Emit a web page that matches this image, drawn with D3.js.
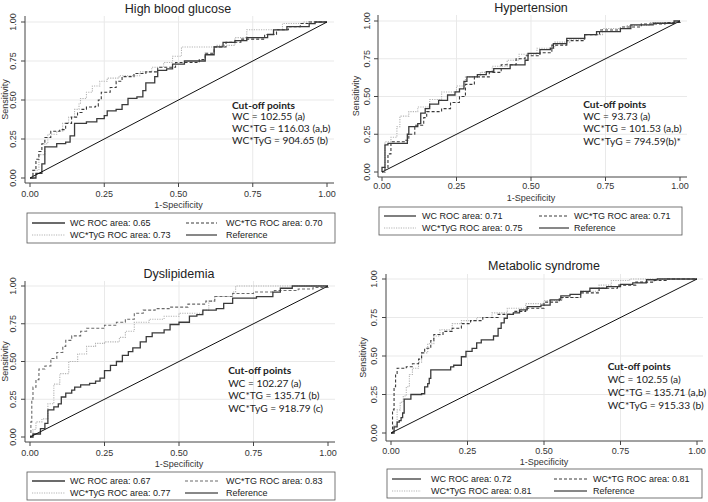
<!DOCTYPE html>
<html><head><meta charset="utf-8">
<script src="https://cdn.jsdelivr.net/npm/d3@7"></script>
<style>body{margin:0;background:#fff} svg{display:block}</style>
</head><body><svg id="c" width="708" height="502"></svg>
<script>
// ---------- DATA ----------
const titles = ["High blood glucose", "Hypertension", "Dyslipidemia", "Metabolic syndrome"];
const ticks = [0, 0.25, 0.5, 0.75, 1];
const tickLabels = ["0.00", "0.25", "0.50", "0.75", "1.00"];
const xTitle = "1-Specificity", yTitle = "Sensitivity";
const seriesNames = ["WC", "WC*TG", "WC*TyG"];
const rocAreas = [[0.65, 0.70, 0.73], [0.71, 0.71, 0.75], [0.67, 0.83, 0.77], [0.72, 0.81, 0.81]];
const cutoffHeader = "Cut-off points";
const cutoffs = [
  ["WC = 102.55 (a)", "WC*TG = 116.03 (a,b)", "WC*TyG = 904.65 (b)"],
  ["WC = 93.73 (a)", "WC*TG = 101.53 (a,b)", "WC*TyG = 794.59(b)*"],
  ["WC = 102.27 (a)", "WC*TG = 135.71 (b)", "WC*TyG = 918.79 (c)"],
  ["WC = 102.55 (a)", "WC*TG = 135.71 (a,b)", "WC*TyG = 915.33 (b)"]
];
const refLine = [[0, 0], [1, 1]];

const hbgWC = [[0,0],[0.02,0.03],[0.04,0.09],[0.05,0.20],[0.09,0.22],[0.12,0.23],[0.135,0.27],[0.15,0.35],[0.19,0.36],[0.225,0.38],[0.25,0.40],[0.26,0.43],[0.29,0.44],[0.31,0.47],[0.33,0.51],[0.36,0.52],[0.38,0.56],[0.39,0.61],[0.42,0.65],[0.43,0.69],[0.46,0.70],[0.48,0.73],[0.52,0.75],[0.59,0.79],[0.62,0.84],[0.65,0.87],[0.69,0.88],[0.73,0.90],[0.80,0.92],[0.82,0.95],[0.865,0.97],[0.94,0.99],[0.96,1],[1,1]];
const hbgTG = [[0,0],[0.01,0.05],[0.02,0.12],[0.03,0.17],[0.04,0.22],[0.05,0.26],[0.07,0.30],[0.10,0.31],[0.12,0.35],[0.14,0.39],[0.16,0.42],[0.175,0.44],[0.19,0.455],[0.22,0.46],[0.23,0.50],[0.24,0.55],[0.27,0.58],[0.29,0.62],[0.31,0.65],[0.35,0.67],[0.39,0.68],[0.43,0.71],[0.49,0.74],[0.57,0.76],[0.59,0.80],[0.62,0.84],[0.66,0.87],[0.71,0.89],[0.79,0.92],[0.83,0.95],[0.87,0.97],[0.91,0.99],[0.94,1],[1,1]];
const hbgTyG = [[0,0],[0.01,0.05],[0.03,0.15],[0.05,0.22],[0.06,0.28],[0.09,0.30],[0.11,0.35],[0.13,0.39],[0.15,0.44],[0.165,0.48],[0.17,0.51],[0.19,0.55],[0.21,0.59],[0.235,0.62],[0.26,0.64],[0.30,0.655],[0.37,0.68],[0.41,0.71],[0.45,0.74],[0.48,0.78],[0.51,0.84],[0.63,0.85],[0.69,0.90],[0.73,0.95],[0.85,0.99],[0.92,1],[1,1]];

const htnWC = [[0,0],[0,0.03],[0.01,0.03],[0.01,0.18],[0.02,0.19],[0.085,0.25],[0.09,0.30],[0.12,0.32],[0.13,0.39],[0.145,0.42],[0.16,0.45],[0.19,0.475],[0.22,0.51],[0.245,0.53],[0.26,0.55],[0.275,0.60],[0.285,0.63],[0.32,0.645],[0.35,0.665],[0.375,0.685],[0.43,0.71],[0.48,0.74],[0.49,0.785],[0.53,0.81],[0.565,0.82],[0.575,0.85],[0.62,0.885],[0.68,0.91],[0.72,0.93],[0.80,0.95],[0.835,0.975],[0.91,0.985],[0.98,1],[1,1]];
const htnTG = [[0,0],[0.01,0.03],[0.02,0.12],[0.03,0.20],[0.08,0.21],[0.09,0.25],[0.11,0.31],[0.14,0.36],[0.15,0.40],[0.20,0.42],[0.23,0.46],[0.26,0.50],[0.28,0.58],[0.31,0.63],[0.36,0.66],[0.40,0.71],[0.45,0.75],[0.48,0.77],[0.53,0.79],[0.57,0.84],[0.62,0.87],[0.68,0.91],[0.73,0.94],[0.80,0.96],[0.87,0.98],[0.95,0.99],[1,1]];
const htnTyG = [[0,0],[0.01,0.20],[0.03,0.23],[0.05,0.30],[0.06,0.37],[0.09,0.40],[0.12,0.43],[0.16,0.48],[0.20,0.53],[0.25,0.57],[0.28,0.63],[0.33,0.66],[0.37,0.70],[0.42,0.74],[0.46,0.78],[0.52,0.82],[0.58,0.86],[0.63,0.88],[0.68,0.91],[0.74,0.95],[0.82,0.97],[0.90,0.99],[1,1]];

const dysWC = [[0,0],[0.01,0.02],[0.035,0.055],[0.05,0.09],[0.06,0.18],[0.08,0.20],[0.095,0.22],[0.105,0.265],[0.12,0.29],[0.14,0.31],[0.15,0.33],[0.17,0.345],[0.20,0.355],[0.22,0.37],[0.235,0.39],[0.25,0.44],[0.27,0.475],[0.29,0.50],[0.31,0.54],[0.33,0.565],[0.345,0.59],[0.37,0.63],[0.39,0.665],[0.41,0.69],[0.45,0.71],[0.47,0.745],[0.50,0.76],[0.535,0.80],[0.56,0.81],[0.58,0.84],[0.625,0.85],[0.65,0.885],[0.68,0.92],[0.76,0.93],[0.815,0.96],[0.84,0.985],[0.88,1],[1,1]];
const dysTG = [[0,0],[0.003,0.10],[0.006,0.25],[0.01,0.33],[0.02,0.38],[0.03,0.45],[0.05,0.47],[0.07,0.52],[0.09,0.56],[0.11,0.60],[0.12,0.64],[0.14,0.67],[0.17,0.70],[0.19,0.72],[0.25,0.74],[0.29,0.76],[0.32,0.78],[0.35,0.82],[0.38,0.84],[0.42,0.85],[0.47,0.86],[0.53,0.88],[0.59,0.90],[0.62,0.93],[0.68,0.95],[0.75,0.96],[0.82,0.97],[0.90,0.98],[0.95,0.99],[1,1]];
const dysTyG = [[0,0],[0.01,0.05],[0.02,0.10],[0.04,0.12],[0.06,0.22],[0.08,0.35],[0.10,0.42],[0.13,0.50],[0.16,0.55],[0.19,0.60],[0.22,0.62],[0.25,0.63],[0.30,0.66],[0.32,0.70],[0.35,0.76],[0.40,0.78],[0.45,0.80],[0.50,0.82],[0.58,0.84],[0.60,0.90],[0.62,0.93],[0.68,0.96],[0.69,1],[1,1]];

const msWC = [[0,0],[0.01,0.04],[0.02,0.07],[0.027,0.08],[0.033,0.10],[0.038,0.13],[0.043,0.22],[0.065,0.25],[0.10,0.255],[0.11,0.30],[0.12,0.32],[0.125,0.355],[0.13,0.41],[0.185,0.41],[0.195,0.43],[0.205,0.44],[0.23,0.495],[0.245,0.53],[0.265,0.55],[0.28,0.585],[0.295,0.605],[0.335,0.63],[0.35,0.68],[0.36,0.715],[0.37,0.745],[0.38,0.77],[0.40,0.78],[0.42,0.80],[0.445,0.82],[0.49,0.83],[0.52,0.865],[0.555,0.89],[0.585,0.90],[0.62,0.92],[0.65,0.94],[0.705,0.95],[0.75,0.965],[0.79,0.975],[0.835,0.995],[0.87,1],[1,1]];
const msTG = [[0,0],[0.005,0.15],[0.01,0.30],[0.015,0.38],[0.02,0.42],[0.05,0.43],[0.07,0.45],[0.09,0.48],[0.10,0.52],[0.11,0.55],[0.13,0.60],[0.14,0.64],[0.17,0.66],[0.20,0.68],[0.23,0.71],[0.26,0.73],[0.30,0.75],[0.35,0.77],[0.40,0.79],[0.44,0.81],[0.50,0.85],[0.55,0.88],[0.62,0.91],[0.68,0.94],[0.74,0.96],[0.80,0.98],[0.86,0.99],[0.90,1],[1,1]];
const msTyG = [[0,0],[0.01,0.05],[0.02,0.15],[0.03,0.20],[0.04,0.24],[0.05,0.30],[0.06,0.38],[0.07,0.42],[0.09,0.46],[0.10,0.52],[0.12,0.58],[0.14,0.63],[0.16,0.67],[0.20,0.71],[0.23,0.73],[0.28,0.75],[0.33,0.78],[0.38,0.81],[0.44,0.84],[0.50,0.86],[0.56,0.88],[0.62,0.92],[0.68,0.96],[0.72,0.99],[0.78,1],[1,1]];

const panelSeries = [[hbgWC, hbgTG, hbgTyG], [htnWC, htnTG, htnTyG], [dysWC, dysTG, dysTyG], [msWC, msTG, msTyG]];

// ---------- LAYOUT (positions only) ----------
const layout = [
  {x0:30,x1:327,y0:178,y1:22,axX:25,axY:183,top:16,right:334,title:[178,13],leg:[27,213,335,243],rows:[223,235],c1:[32,65,70],c2:[186,217,226],xl:197,xt:208,yl:16,yt:8,cut:[0.68,0.47,11.8],tg:"#3a3a3a"},
  {x0:382,x1:680,y0:172,y1:21,axX:378,axY:177,top:15,right:687,title:[531,12],leg:[379,207,682,235],rows:[216,228],c1:[384,416,422],c2:[539,569,574],xl:189,xt:201,yl:370,yt:359,cut:[0.675,0.45,12.2],tg:"#3a3a3a"},
  {x0:30,x1:328,y0:437,y1:286,axX:25,axY:442,top:281,right:335,title:[179,278],leg:[27,472,335,500],rows:[481,493],c1:[32,65,70],c2:[185,218,226],xl:456,xt:467,yl:16,yt:8,cut:[0.665,0.445,12.8],tg:"#6a6a6a"},
  {x0:391,x1:697,y0:433,y1:279,axX:386,axY:441,top:274,right:703,title:[544,270],leg:[387,469,702,498],rows:[479,491],c1:[392,421,431],c2:[554,587,593],xl:454,xt:465,yl:377,yt:366,cut:[0.708,0.435,13],tg:"#3a3a3a"}
];

const styles = [
  {stroke:"#3a3a3a", width:1.3, dash:null},
  {stroke:"#3a3a3a", width:1.1, dash:"3,2"},
  {stroke:"#b4b4b4", width:1.1, dash:"1.2,1.2"},
  {stroke:"#111", width:1, dash:null}
];
const AX_FONT = "'Liberation Sans', Arial, sans-serif";

const svg = d3.select("#c");

layout.forEach((L, i) => {
  const g = svg.append("g");
  const x = d3.scaleLinear().domain([0, 1]).range([L.x0, L.x1]);
  const y = d3.scaleLinear().domain([0, 1]).range([L.y0, L.y1]);
  const st = styles.map((s, k) => k === 1 ? Object.assign({}, s, {stroke: L.tg}) : s);

  // grid
  g.selectAll(".hg").data(ticks.slice(1)).enter().append("line")
    .attr("x1", L.axX).attr("x2", L.right).attr("y1", d => y(d)).attr("y2", d => y(d))
    .attr("stroke", "#e9e9e9").attr("stroke-width", 1);
  g.selectAll(".vg").data(ticks.slice(1, 4)).enter().append("line")
    .attr("y1", L.top).attr("y2", L.axY).attr("x1", d => x(d)).attr("x2", d => x(d))
    .attr("stroke", "#e9e9e9").attr("stroke-width", 1);

  // axes lines
  g.append("line").attr("x1", L.axX).attr("x2", L.axX).attr("y1", L.top).attr("y2", L.axY)
    .attr("stroke", "#444").attr("stroke-width", 1);
  g.append("line").attr("x1", L.axX).attr("x2", L.right).attr("y1", L.axY).attr("y2", L.axY)
    .attr("stroke", "#444").attr("stroke-width", 1);

  // ticks
  g.selectAll(".xt").data(ticks).enter().append("line")
    .attr("x1", d => x(d)).attr("x2", d => x(d)).attr("y1", L.axY).attr("y2", L.axY + 4)
    .attr("stroke", "#444");
  g.selectAll(".yt").data(ticks).enter().append("line")
    .attr("y1", d => y(d)).attr("y2", d => y(d)).attr("x1", L.axX).attr("x2", L.axX - 4)
    .attr("stroke", "#444");

  // tick labels
  g.selectAll(".xl").data(ticks).enter().append("text")
    .attr("x", d => x(d)).attr("y", L.xl).attr("text-anchor", "middle")
    .attr("font-family", AX_FONT).attr("font-size", 9).attr("fill", "#333")
    .text((d, k) => tickLabels[k]);
  g.selectAll(".yl").data(ticks).enter().append("text")
    .attr("transform", d => `translate(${L.yl},${y(d)}) rotate(-90)`).attr("text-anchor", "middle")
    .attr("font-family", AX_FONT).attr("font-size", 9).attr("fill", "#333")
    .text((d, k) => tickLabels[k]);

  // axis titles
  g.append("text").attr("x", (L.x0 + L.x1) / 2).attr("y", L.xt).attr("text-anchor", "middle")
    .attr("font-family", AX_FONT).attr("font-size", 9).attr("fill", "#333").text(xTitle);
  g.append("text").attr("transform", `translate(${L.yt},${(L.top + L.axY) / 2}) rotate(-90)`)
    .attr("text-anchor", "middle").attr("font-family", AX_FONT).attr("font-size", 9)
    .attr("fill", "#333").text(yTitle);

  // title
  g.append("text").attr("x", L.title[0]).attr("y", L.title[1]).attr("text-anchor", "middle")
    .attr("font-family", AX_FONT).attr("font-size", 12.5).attr("fill", "#222").text(titles[i]);

  // curves
  const line = d3.line().x(d => x(d[0])).y(d => y(d[1]));
  const stepLine = d3.line().x(d => x(d[0])).y(d => y(d[1])).curve(d3.curveStepAfter);
  [2, 1, 0].forEach(s => {
    g.append("path").attr("d", stepLine(panelSeries[i][s])).attr("fill", "none")
      .attr("stroke", st[s].stroke).attr("stroke-width", st[s].width)
      .attr("stroke-dasharray", st[s].dash);
  });
  g.append("path").attr("d", line(refLine)).attr("fill", "none")
    .attr("stroke", st[3].stroke).attr("stroke-width", st[3].width);

  // cut-off text
  const ct = g.append("text").attr("font-family", "Lato, 'Open Sans', sans-serif")
    .attr("font-size", 10.2).attr("fill", "#222");
  const cx = x(L.cut[0]);
  const hy = y(L.cut[1]) + 4;
  ct.append("tspan").attr("x", cx).attr("y", hy).attr("font-weight", "bold").text(cutoffHeader);
  cutoffs[i].forEach((t, k) => {
    ct.append("tspan").attr("x", cx).attr("y", hy + L.cut[2] * (k + 1)).text(t);
  });

  // legend
  const [lx0, ly0, lx1, ly1] = L.leg;
  g.append("rect").attr("x", lx0).attr("y", ly0).attr("width", lx1 - lx0).attr("height", ly1 - ly0)
    .attr("fill", "#fff").attr("stroke", "#555").attr("stroke-width", 0.8);
  const items = [
    {s:0, label:`${seriesNames[0]} ROC area: ${rocAreas[i][0].toFixed(2)}`, col:L.c1, row:L.rows[0]},
    {s:1, label:`${seriesNames[1]} ROC area: ${rocAreas[i][1].toFixed(2)}`, col:L.c2, row:L.rows[0]},
    {s:2, label:`${seriesNames[2]} ROC area: ${rocAreas[i][2].toFixed(2)}`, col:L.c1, row:L.rows[1]},
    {s:3, label:"Reference", col:L.c2, row:L.rows[1]}
  ];
  items.forEach(it => {
    const s = st[it.s];
    g.append("line").attr("x1", it.col[0]).attr("x2", it.col[1]).attr("y1", it.row).attr("y2", it.row)
      .attr("stroke", s.stroke).attr("stroke-width", s.width).attr("stroke-dasharray", s.dash);
    g.append("text").attr("x", it.col[2]).attr("y", it.row + 3.2)
      .attr("font-family", AX_FONT).attr("font-size", 9).attr("fill", "#222").text(it.label);
  });
});
</script>
</body></html>
